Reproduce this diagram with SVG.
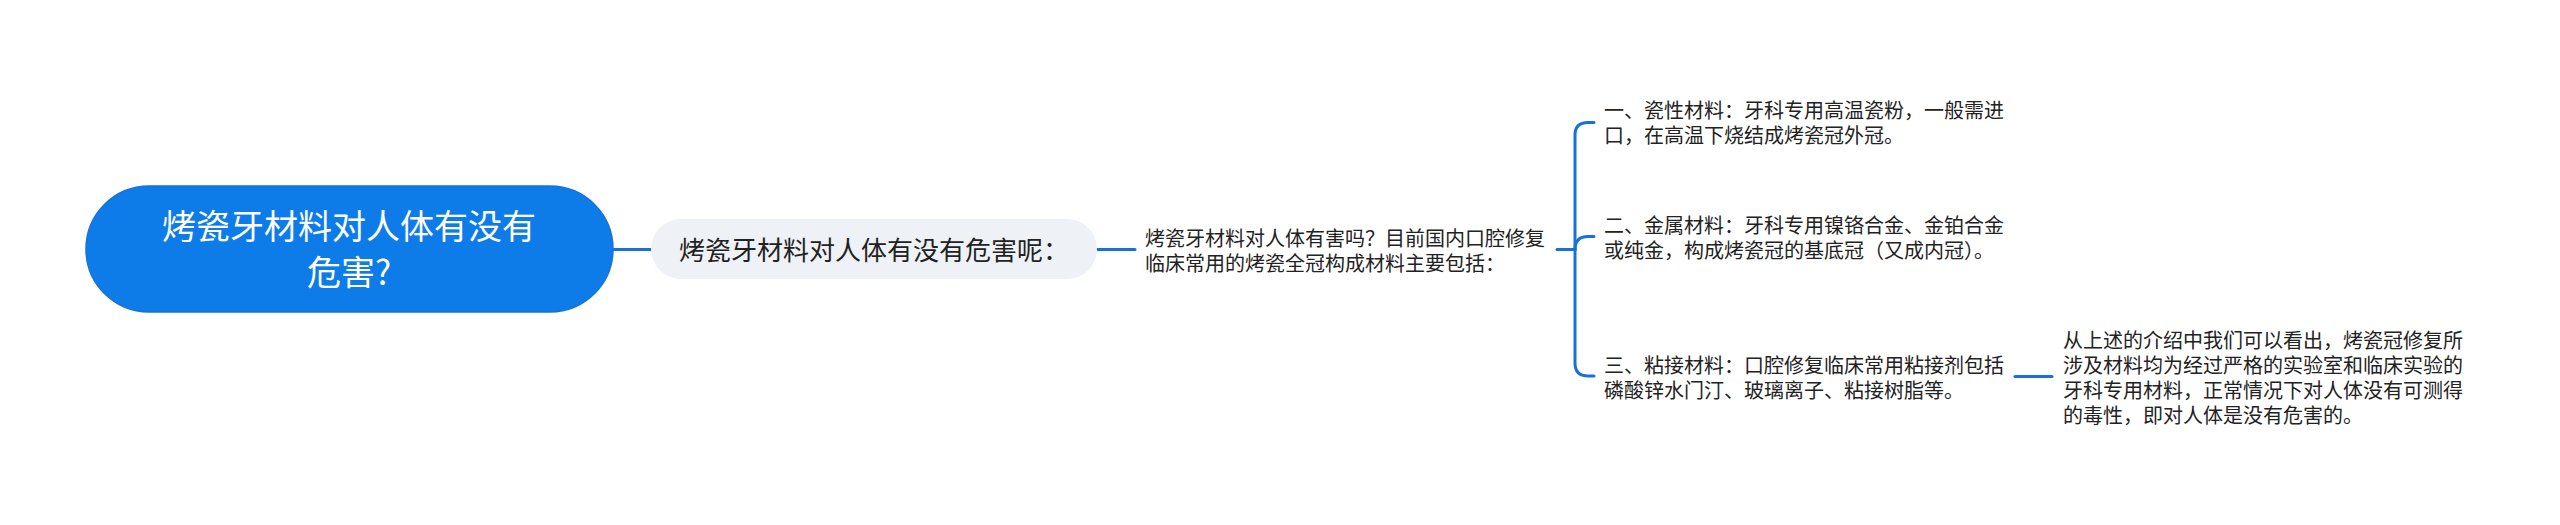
<svg xmlns="http://www.w3.org/2000/svg" width="2560" height="525" viewBox="0 0 2560 525">
<style>
.t{font-family:"Noto Sans CJK SC","Liberation Sans",sans-serif;fill:#222}
.s{font-size:20px}
.r{fill:#ffffff;font-size:34px}
.c{fill:none;stroke:#1672DA;stroke-width:3;stroke-linecap:round}
</style>
<rect width="2560" height="525" fill="#ffffff"/>
<g id="connectors">
<path class="c" d="M613 249.5 H651"/>
<path class="c" d="M1097 249.5 H1135"/>
<path class="c" d="M1557 249.5 H1575"/>
<path class="c" d="M1575 249.5 V135 Q1575 122.5 1588 122.5 H1594"/>
<path class="c" d="M1575 249.5 Q1575 236.5 1588 236.5 H1594"/>
<path class="c" d="M1575 249.5 V363 Q1575 376 1588 376 H1594"/>
<path class="c" d="M2015 376.5 H2052"/>
</g>
<g id="root">
<rect x="86" y="186" width="527" height="126" rx="63" fill="#0E7CE8" stroke="#1472DA" stroke-width="1.5"/>
<text class="t r" text-anchor="middle" x="349" y="239">烤瓷牙材料对人体有没有</text>
<text class="t r" text-anchor="middle" x="349" y="284.5">危害?</text>
</g>
<g id="n1">
<rect x="651" y="219" width="446" height="60" rx="30" fill="#EEF1F5"/>
<text class="t" style="font-size:26px" x="679" y="260">烤瓷牙材料对人体有没有危害呢：</text>
</g>
<g id="n2">
<text class="t s" x="1145" y="245.6">烤瓷牙材料对人体有害吗？目前国内口腔修复</text>
<text class="t s" x="1145" y="270.6">临床常用的烤瓷全冠构成材料主要包括：</text>
</g>
<g id="c1">
<text class="t s" x="1604" y="117.6">一、瓷性材料：牙科专用高温瓷粉，一般需进</text>
<text class="t s" x="1604" y="142.6">口，在高温下烧结成烤瓷冠外冠。</text>
</g>
<g id="c2">
<text class="t s" x="1604" y="232.6">二、金属材料：牙科专用镍铬合金、金铂合金</text>
<text class="t s" x="1604" y="257.6">或纯金，构成烤瓷冠的基底冠（又成内冠）。</text>
</g>
<g id="c3">
<text class="t s" x="1604" y="372.6">三、粘接材料：口腔修复临床常用粘接剂包括</text>
<text class="t s" x="1604" y="397.6">磷酸锌水门汀、玻璃离子、粘接树脂等。</text>
</g>
<g id="leaf">
<text class="t s" x="2063" y="347.6">从上述的介绍中我们可以看出，烤瓷冠修复所</text>
<text class="t s" x="2063" y="372.8">涉及材料均为经过严格的实验室和临床实验的</text>
<text class="t s" x="2063" y="398">牙科专用材料，正常情况下对人体没有可测得</text>
<text class="t s" x="2063" y="423.4">的毒性，即对人体是没有危害的。</text>
</g>
</svg>
